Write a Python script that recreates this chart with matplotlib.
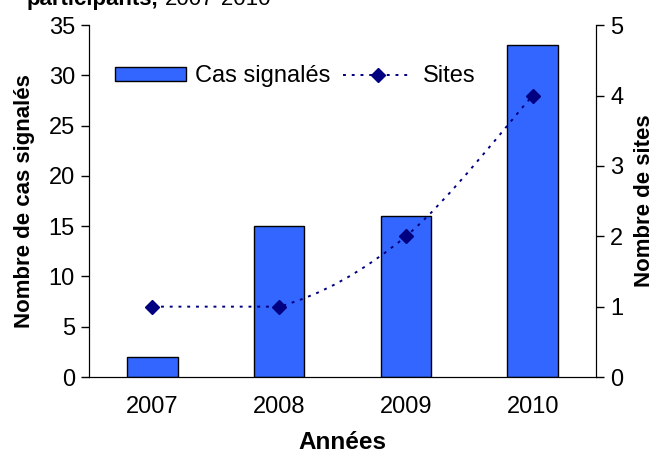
import numpy as np
import matplotlib
matplotlib.use('Agg')
import matplotlib.pyplot as plt
from matplotlib.path import Path
from matplotlib.patches import PathPatch
from matplotlib.lines import Line2D
from matplotlib.patches import Patch

plt.rcParams['font.family'] = ['Liberation Sans', 'DejaVu Sans']

years = ['2007', '2008', '2009', '2010']
cas = [2, 15, 16, 33]
sites = [1, 1, 2, 4]

bar_color = '#3366FF'
line_color = '#000080'
fs = 17

fig = plt.figure(figsize=(6.58, 4.57), dpi=100)
ax = fig.add_axes([0.135, 0.175, 0.771, 0.770])
ax2 = ax.twinx()

x = np.arange(len(years))
ax.bar(x, cas, width=0.4, color=bar_color, edgecolor='black', linewidth=1, zorder=2)

# smoothed line like excel (bezier through the points)
pts = np.column_stack([x, sites]).astype(float)
n = len(pts)
verts = [tuple(pts[0])]
codes = [Path.MOVETO]
for i in range(n - 1):
    p0 = pts[max(i - 1, 0)]
    p1 = pts[i]
    p2 = pts[i + 1]
    p3 = pts[min(i + 2, n - 1)]
    if p1[1] == p2[1]:
        c1 = p1 + (p2 - p1) / 3
        c2 = p2 - (p2 - p1) / 3
    else:
        c1 = p1 + (p2 - p0) / 6
        c2 = p2 - (p3 - p1) / 6
    verts += [tuple(c1), tuple(c2), tuple(p2)]
    codes += [Path.CURVE4] * 3
curve = PathPatch(Path(verts, codes), facecolor='none', edgecolor=line_color,
                  linewidth=1.4, linestyle=(0, (1.5, 3)), zorder=3)
ax2.add_patch(curve)
ax2.plot(x, sites, linestyle='none', marker='D', markersize=7,
         color=line_color, zorder=4)

ax.set_xlim(-0.5, 3.5)
ax.set_ylim(0, 35)
ax.set_yticks(range(0, 36, 5))
ax2.set_ylim(0, 5)
ax2.set_yticks(range(0, 6))
ax.set_xticks(x)
ax.set_xticklabels(years)

for a in (ax, ax2):
    a.spines['top'].set_visible(False)
    a.tick_params(axis='both', labelsize=fs, length=6, width=1)
ax.tick_params(axis='x', length=0, pad=14)
ax.tick_params(axis='y', pad=4)
ax2.tick_params(axis='y', pad=4)

ax.set_ylabel('Nombre de cas signalés', fontsize=16, fontweight='bold', labelpad=10)
ax2.set_ylabel('Nombre de sites', fontsize=16, fontweight='bold', labelpad=8)
ax.set_xlabel('Années', fontsize=17.5, fontweight='bold', labelpad=9)

handles = [Patch(facecolor=bar_color, edgecolor='black', linewidth=1),
           Line2D([], [], color=line_color, linewidth=1.4, linestyle=(0, (1.5, 3)),
                  marker='D', markersize=7)]
ax2.legend(handles, ['Cas signalés', 'Sites'], ncol=2, frameon=False, fontsize=fs,
           handlelength=3.0, handleheight=0.5, columnspacing=0.5, handletextpad=0.4,
           loc='center left', bbox_to_anchor=(0.01, 0.855))

# cut-off title at the top
t1 = fig.text(0.041, 1 - 5 / 457, 'participants,', fontsize=16, fontweight='bold', va='baseline')
fig.canvas.draw()
bb = t1.get_window_extent()
fig.text((bb.x1 + 6) / fig.bbox.width, 1 - 5 / 457, '2007-2010', fontsize=16, va='baseline')

fig.savefig('out.png', dpi=100)
